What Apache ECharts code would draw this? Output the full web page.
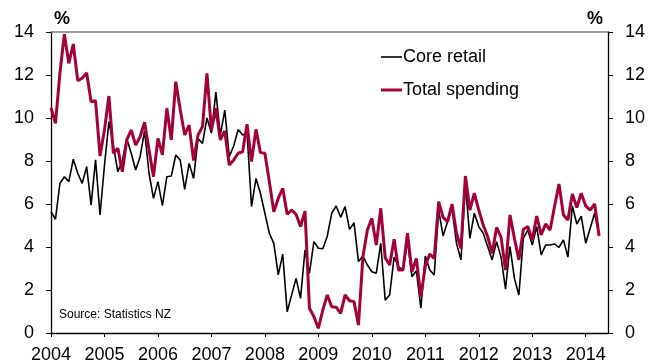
<!DOCTYPE html>
<html><head><meta charset="utf-8">
<script src="https://cdn.jsdelivr.net/npm/echarts@6/dist/echarts.min.js"></script>
<style>html,body{margin:0;padding:0;background:#fff}#c{width:661px;height:364px}</style>
</head><body><div id="c"></div>
<script>
// Monthly series, Jan 2004 .. Apr 2014 (annual % change)
const startYear = 2004;
const years = [2004, 2005, 2006, 2007, 2008, 2009, 2010, 2011, 2012, 2013, 2014];
const yTicks = [0, 2, 4, 6, 8, 10, 12, 14];
const seriesNames = ['Core retail', 'Total spending'];
const coreRetail = [
  5.64, 5.29, 6.96, 7.27, 7.04, 8.08, 7.43, 6.96, 7.74, 5.95, 8.05, 5.49,
  7.8, 9.83, 8.7, 7.5, 8.0, 9.05, 8.36, 7.58, 8.2, 9.4, 7.43, 6.26,
  7.04, 5.92, 7.27, 7.3, 8.28, 8.05, 6.68, 7.89, 7.19, 9.05, 8.82, 10.0,
  9.3, 11.2, 9.2, 10.37, 8.2, 8.7, 9.47, 9.21, 9.3, 5.88, 7.19, 6.5,
  5.57, 4.64, 4.17, 2.7, 3.67, 0.99, 1.77, 2.54, 1.61, 3.86, 2.78, 4.25,
  3.94, 3.92, 4.5, 5.57, 5.91, 5.38, 5.88, 4.82, 5.13, 3.32, 3.58, 3.16,
  2.85, 2.78, 4.17, 1.53, 1.77, 3.53, 3.08, 2.93, 4.3, 2.62, 2.9, 1.15,
  3.58, 2.93, 2.7, 5.72, 4.51, 5.18, 5.8, 4.17, 3.4, 6.96, 4.4, 5.57,
  4.95, 4.64, 4.02, 3.4, 4.25, 3.53, 2.04, 4.02, 2.54, 1.77, 4.4, 4.79,
  4.09, 4.95, 3.63, 4.09, 4.09, 4.14, 3.98, 4.33, 3.53, 5.91, 5.07, 5.44,
  4.17, 4.87, 5.57, 4.6
];
const totalSpending = [
  10.47, 9.75, 12.08, 13.9, 12.54, 13.44, 11.74, 11.85, 12.1, 10.76, 10.8, 8.23,
  9.44, 11.02, 8.36, 8.59, 7.5, 8.98, 9.44, 8.74, 9.13, 9.8, 8.51, 7.27,
  9.05, 8.28, 10.45, 8.98, 11.69, 10.4, 9.21, 9.67, 8.02, 9.21, 9.6, 12.08,
  9.44, 10.45, 8.98, 9.4, 7.81, 8.05, 8.36, 8.43, 9.71, 7.97, 9.47, 8.39,
  8.36, 7.04, 5.64, 6.26, 6.73, 5.52, 5.72, 5.52, 4.95, 5.67, 1.15, 0.76,
  0.22, 1.07, 1.77, 1.22, 1.2, 0.91, 1.77, 1.5, 1.46, 0.37, 3.55, 4.79,
  5.33, 4.09, 5.8, 3.5, 3.16, 4.36, 2.93, 2.93, 4.64, 2.85, 3.47, 1.69,
  3.12, 3.67, 3.47, 6.11, 5.38, 5.18, 6.0, 4.64, 3.94, 7.3, 5.72, 6.5,
  5.72, 5.02, 4.48, 3.7, 4.91, 4.46, 2.93, 5.49, 4.4, 3.4, 4.82, 4.95,
  4.33, 5.44, 4.56, 5.07, 4.79, 5.88, 6.93, 5.49, 5.26, 6.47, 5.84, 6.5,
  5.91, 5.72, 6.0, 4.51
];
const sourceText = 'Source: Statistics NZ';

const toPairs = arr => arr.map((v, i) => [startYear + i / 12, v]);
const xMax = startYear + (coreRetail.length + 1) / 12;
const FONT = 'Liberation Sans, Arial, sans-serif';
const RED = '#A4003A';

const chart = echarts.init(document.getElementById('c'), null, {renderer: 'canvas'});
const yAxisCommon = {
  type: 'value', min: 0, max: 14, interval: 2,
  axisLine: {show: true, lineStyle: {color: '#000', width: 1.3}},
  axisTick: {show: true, length: 5, lineStyle: {color: '#000', width: 1}},
  axisLabel: {fontSize: 18, color: '#000', fontFamily: FONT, margin: 17},
  splitLine: {show: false}
};
chart.setOption({
  animation: false,
  backgroundColor: '#fff',
  grid: {left: 51, right: 53, top: 32, bottom: 31, containLabel: false},
  xAxis: [{
    type: 'value', min: startYear, max: xMax, position: 'bottom',
    axisLine: {show: true, onZero: false, lineStyle: {color: '#000', width: 1.3}},
    axisTick: {show: true, length: 4, customValues: years, lineStyle: {color: '#000'}},
    axisLabel: {customValues: years, fontSize: 18, color: '#000', fontFamily: FONT, margin: 13,
      formatter: v => String(v)},
    splitLine: {show: false}
  }, {
    type: 'value', min: startYear, max: xMax, position: 'top',
    axisLine: {show: true, onZero: false, lineStyle: {color: '#808080', width: 1.5}},
    axisTick: {show: false}, axisLabel: {show: false}, splitLine: {show: false}
  }],
  yAxis: [
    Object.assign({position: 'left'}, yAxisCommon),
    Object.assign({position: 'right'}, yAxisCommon)
  ],
  legend: {
    orient: 'vertical', left: 376, top: 43, itemWidth: 21, itemHeight: 14, itemGap: 15,
    symbolKeepAspect: true,
    textStyle: {fontSize: 18, color: '#000', fontFamily: FONT, padding: [0, 0, 0, -4]},
    data: [
      {name: seriesNames[0], icon: 'path://M0,0 L21,0 L21,1.6 L0,1.6 Z', itemStyle: {color: '#000'}},
      {name: seriesNames[1], icon: 'path://M0,0 L21,0 L21,3 L0,3 Z', itemStyle: {color: RED}}
    ]
  },
  graphic: [
    {type: 'text', left: 54, top: 10, style: {text: '%', font: 'bold 18px ' + FONT, fill: '#000'}},
    {type: 'text', left: 587, top: 10, style: {text: '%', font: 'bold 18px ' + FONT, fill: '#000'}},
    {type: 'text', left: 59, top: 309, style: {text: sourceText, font: '12px ' + FONT, fill: '#000'}}
  ],
  series: [
    {name: seriesNames[0], type: 'line', data: toPairs(coreRetail), symbol: 'none',
      lineStyle: {color: '#000', width: 1.6}, itemStyle: {color: '#000'}, z: 2},
    {name: seriesNames[1], type: 'line', data: toPairs(totalSpending), symbol: 'none',
      lineStyle: {color: RED, width: 3}, itemStyle: {color: RED}, z: 3}
  ]
});
</script></body></html>
